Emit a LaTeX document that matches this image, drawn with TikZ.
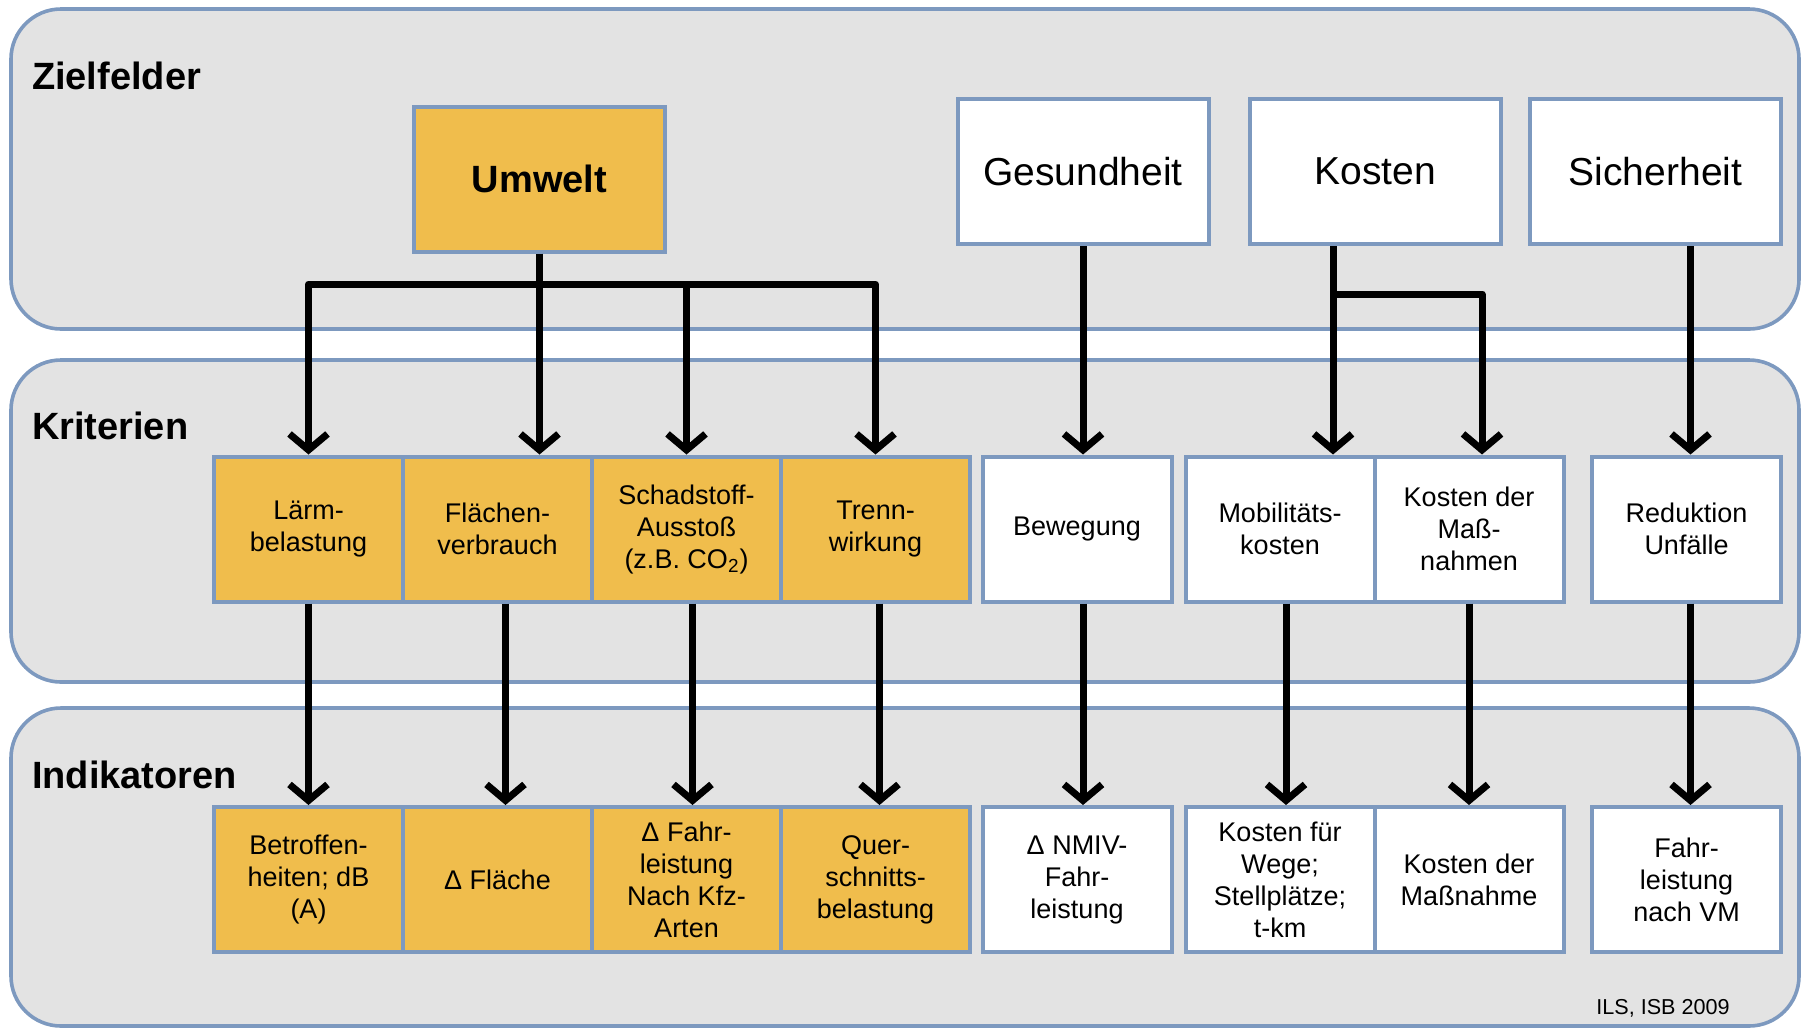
\documentclass[tikz,border=0pt]{standalone}
\usepackage{fontspec}
\setmainfont{Liberation Sans}
\usetikzlibrary{arrows.meta}
\definecolor{bandgrey}{RGB}{227,227,227}
\definecolor{bandline}{RGB}{125,153,191}
\definecolor{umw}{RGB}{240,189,76}
\tikzset{
	band/.style={draw=bandline, line width=1.8pt, fill=bandgrey, rounded corners=25pt},
	bandlabel/.style={anchor=base west, font=\fontsize{19}{22}\selectfont\bfseries},
	ziel/.style={draw=bandline, line width=2pt, fill=white, minimum width=125.5pt, minimum height=72.5pt, inner sep=0pt, font=\fontsize{19.5}{22}\selectfont},
	krit/.style={draw=bandline, line width=2pt, fill=white, minimum width=94.5pt, minimum height=72.5pt, inner sep=0pt, align=center, font=\fontsize{13.5}{16}\selectfont},
	umwbox/.style={fill=umw},
	arr/.style={line width=3.5pt, line join=round, -{Straight Barb[length=8pt,width=19pt]}},
}

\begin{document}
\begin{tikzpicture}[x=0.5pt, y=-0.5pt]
	\useasboundingbox (0,0) rectangle (1802,1029);
	% bands
	\draw [band] (11,9) rectangle (1799,329);
	\draw [band] (11,360) rectangle (1799,682);
	\draw [band] (11,708) rectangle (1799,1026);
	\node [bandlabel] (lz) at (25,89) {Zielfelder};
	\node [bandlabel] (lk) at (25,439) {Kriterien};
	\node [bandlabel] (li) at (25,788) {Indikatoren};
	%
	\node [ziel, umwbox, font=\fontsize{19}{22}\selectfont\bfseries] (u) at (539.5,179) {Umwelt};
	\node [ziel] (ge) at (1083,171.5) {Gesundheit};
	\node [ziel] (ko) at (1375,171.5) {Kosten};
	\node [ziel] (si) at (1655.5,171.5) {Sicherheit};
	%
	\node [krit, umwbox] (k1) at (308.5,529) {Lärm-\\belastung};
	\node [krit, umwbox] (k2) at (497.5,529) {Flächen-\\verbrauch};
	\node [krit, umwbox] (k3) at (686.5,529) {Schadstoff-\\Ausstoß\\(z.B. CO\textsubscript{2})};
	\node [krit, umwbox] (k4) at (875.5,529) {Trenn-\\wirkung};
	\node [krit] (k5) at (1077,529) {Bewegung};
	\node [krit] (k6) at (1280,529) {Mobilitäts-\\kosten};
	\node [krit] (k7) at (1469,529) {Kosten der\\Maß-\\nahmen};
	\node [krit] (k8) at (1686.5,529) {Reduktion\\Unfälle};
	%
	\node [krit, umwbox] (i1) at (308.5,879.5) {Betroffen-\\heiten; dB\\(A)};
	\node [krit, umwbox] (i2) at (497.5,879.5) {Δ Fläche};
	\node [krit, umwbox] (i3) at (686.5,879.5) {Δ Fahr-\\leistung\\Nach Kfz-\\Arten};
	\node [krit, umwbox] (i4) at (875.5,879.5) {Quer-\\schnitts-\\belastung};
	\node [krit] (i5) at (1077,879.5) {Δ NMIV-\\Fahr-\\leistung};
	\node [krit] (i6) at (1280,879.5) {Kosten für\\Wege;\\Stellplätze;\\t-km};
	\node [krit] (i7) at (1469,879.5) {Kosten der\\Maßnahme};
	\node [krit] (i8) at (1686.5,879.5) {Fahr-\\leistung\\nach VM};
	%
	\node [font=\fontsize{10.8}{13}\selectfont] (src) at (1663,1008) {ILS, ISB 2009};
	% Zielfelder -> Kriterien
	\coordinate (ub) at (539.5,284);
	\coordinate (kl) at (1333,294);
	\coordinate (kr) at (1482,294);
	\draw [arr] (u.south) -- (u.south |- k2.north);
	\draw [arr] (ub) -| (k1.north);
	\draw [arr] (ub) -| (k3.north);
	\draw [arr] (ub) -| (k4.north);
	\draw [arr] (ge.south) -- (ge.south |- k5.north);
	\draw [arr] (kl |- ko.south) -- (kl |- k6.north);
	\draw [arr] (kl) -- (kr) -- (kr |- k7.north);
	\draw [arr] ([xshift=2pt]k8.north |- si.south) -- ([xshift=2pt]k8.north);
	% Kriterien -> Indikatoren
	\draw [arr] (k1.south) -- (i1.north);
	\draw [arr] ([xshift=4pt]k2.south) -- ([xshift=4pt]i2.north);
	\draw [arr] ([xshift=3pt]k3.south) -- ([xshift=3pt]i3.north);
	\draw [arr] ([xshift=2pt]k4.south) -- ([xshift=2pt]i4.north);
	\draw [arr] ([xshift=3pt]k5.south) -- ([xshift=3pt]i5.north);
	\draw [arr] ([xshift=3pt]k6.south) -- ([xshift=3pt]i6.north);
	\draw [arr] (k7.south) -- (i7.north);
	\draw [arr] ([xshift=2pt]k8.south) -- ([xshift=2pt]i8.north);
\end{tikzpicture}
\end{document}
